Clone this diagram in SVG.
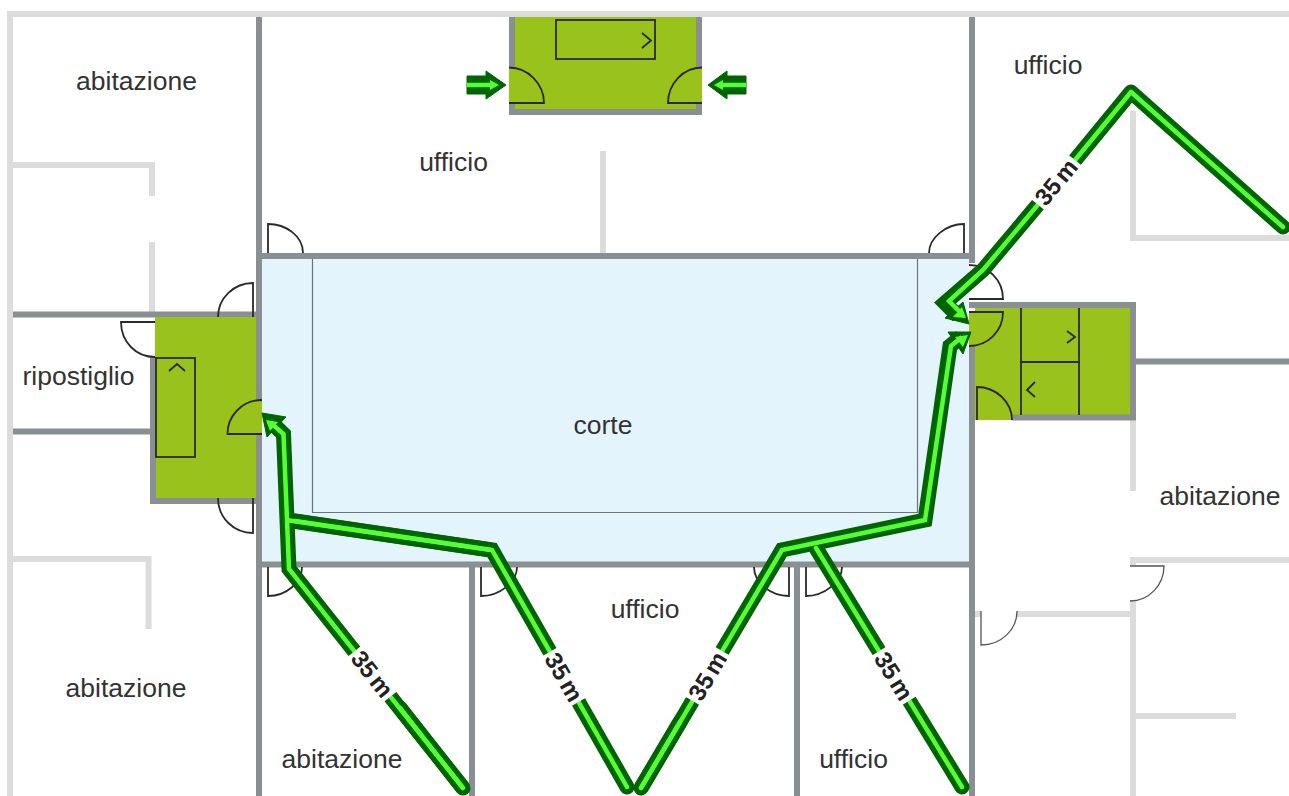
<svg xmlns="http://www.w3.org/2000/svg" width="1289" height="796" viewBox="0 0 1289 796">
<style>
.lw{fill:none;stroke:#dcdcdc;stroke-width:6}
.dw{fill:none;stroke:#898f92;stroke-width:6}
.g{fill:#99c21c}
.d{fill:none;stroke:#2a2a2a;stroke-width:1.800}
.e{fill:none;stroke:#555;stroke-width:1.300}
.t{font-family:"Liberation Sans",Arial,sans-serif;font-size:26.500px;fill:#333;text-anchor:middle}
.m{font-family:"Liberation Sans",Arial,sans-serif;font-size:24px;font-weight:bold;fill:#222;text-anchor:middle;word-spacing:-3px}
.o{fill:none;stroke:#006400;stroke-width:15;stroke-linejoin:miter;stroke-linecap:round}
.i{fill:none;stroke:#55ff33;stroke-width:4.500;stroke-linejoin:miter;stroke-linecap:round}
.h{fill:#006400;stroke:#006400;stroke-width:1;stroke-linejoin:round}
.k{fill:#55ff33}
.mask{fill:#fff}
</style>
<rect width="1289" height="796" fill="#fff"/>
<g id="walls-light">
<path class="lw" d="M1289 14H10V796"/>
<path class="lw" d="M10 165H152V196M152 242V312"/>
<path class="lw" d="M10 559H148.500V629"/>
<path class="lw" d="M1133 111V238H1289"/>
<path class="lw" d="M1133 420V491M1133 557V796"/>
<path class="lw" d="M1130 560H1289M975 614H981M1017 614H1130M1133 716H1236"/>
<path class="lw" d="M603 151V254"/>
<rect x="1129" y="566" width="8" height="35" fill="#fff"/>
</g>
<g id="corte">
<rect x="262" y="259" width="707" height="303" fill="#e4f4fc"/>
<path d="M312.500 259V512.500H917.500V259" fill="none" stroke="#6f7477" stroke-width="1.200"/>
<text class="t" x="603" y="434">corte</text>
</g>
<g id="walls-dark">
<path class="dw" d="M259 17V400M259 434V796M972 17V263M972 345V796"/>
<path class="dw" d="M256 256H975M256 564.500H975"/>
<path class="dw" d="M472 564V796M797 564V796"/>
<path class="dw" d="M13 314.500H259M13 431.500H152M1136 361.500H1289"/>
</g>
<g id="room-left">
<rect class="g" x="155" y="317" width="101" height="181"/>
<rect class="g" x="255" y="400" width="7" height="34"/>
<path class="dw" d="M153 357V501H256"/>
<rect class="d" x="156" y="358" width="39" height="99"/>
<path class="d" d="M169 371L177 364L185 371"/>
<path class="d" d="M262 434H227.500C227.500 416 242 400 262 400"/>
<path class="d" d="M155 322H121C121 342 136 357 155 357"/>
<path class="d" d="M253 317V283C234 283 218 298 218 317"/>
<path class="d" d="M253 498V533C234 533 218 518 218 498"/>
</g>
<g id="room-top">
<rect class="g" x="515" y="17" width="181" height="92"/>
<rect class="g" x="509" y="67" width="7" height="36"/>
<rect class="g" x="695" y="67" width="7" height="36"/>
<path class="dw" d="M512 17V67M512 103V112H699V103M699 67V17"/>
<rect class="d" x="556" y="20" width="99" height="39"/>
<path class="d" d="M642 33L651 40.500L642 48"/>
<path class="d" d="M509 67.500C528 67.500 544 84 544 103H509M702 67.500C683 67.500 668 84 668 103H702"/>
</g>
<g id="room-right">
<rect class="g" x="975" y="308" width="155" height="107"/>
<rect class="g" x="969" y="312" width="7" height="34"/>
<rect class="g" x="975" y="414" width="37" height="6"/>
<path class="dw" d="M969 305H1133V417.500H1012"/>
<path class="d" d="M1021 308V415M1079 308V415M1021 362H1079"/>
<path class="d" d="M1067 331L1075 337L1067 343M1035 382L1027 390L1035 397"/>
<path class="d" d="M969 312H1003C1003 331 988 346 969 346"/>
<path class="d" d="M977 420V387C996 387 1012 402 1012 420"/>
<path class="d" d="M969 299H1003C1003 280 988 265 969 265"/>
</g>
<g id="doors">
<path class="d" d="M268 253V224C286 224 303 236 303 253"/>
<path class="d" d="M964 253V224C946 224 929 238 929 253"/>
<path class="d" d="M268 567V596C286 596 302 583 302 567"/>
<path class="d" d="M481 567V596C500 596 517 582 517 567"/>
<path class="d" d="M789 567V596C770 596 754 582 754 567"/>
<path class="d" d="M806 567V596C824 596 842 582 842 567"/>
<path class="e" d="M1130 566H1164C1164 585 1149 601 1130 601"/>
<path class="e" d="M981 611V645C1001 645 1017 630 1017 611"/>
</g>
<g id="labels">
<text class="t" x="136.500" y="90">abitazione</text>
<text class="t" x="453.500" y="171">ufficio</text>
<text class="t" x="1048" y="74">ufficio</text>
<text class="t" x="78.500" y="385">ripostiglio</text>
<text class="t" x="1220" y="505">abitazione</text>
<text class="t" x="645" y="618">ufficio</text>
<text class="t" x="126" y="697">abitazione</text>
<text class="t" x="342" y="768">abitazione</text>
<text class="t" x="853.500" y="768">ufficio</text>
</g>
<g id="connectors">
<path class="o" style="stroke-linejoin:round" d="M1283 227L1131 92L1057 182"/>
<path class="o" style="stroke-linecap:butt" d="M1057 182L983 270L945 303L958 316"/>
<path class="o" style="stroke-linecap:butt" d="M463 788L289 569L283.500 434L272 423"/>
<path class="o" d="M463 788L400 708"/>
<path class="o" style="stroke-linecap:butt" d="M491 550L286 520"/>
<path class="o" d="M627 787L492 550L295 521"/>
<path class="o" style="stroke-linecap:butt" d="M641 788L782 550L925 520L950 346L961 337"/>
<path class="o" d="M641 788L680 722"/>
<path class="o" d="M962 787L816 548"/>
<path class="h" d="M262 413L286 417L267 437Z"/>
<path class="h" d="M971 332L948 332L963 354Z"/>
<path class="h" d="M969 324L945 318L963 302Z"/>
<path class="i" style="stroke-linejoin:round" d="M1283 227L1131 92L1057 182"/>
<path class="i" style="stroke-linecap:butt" d="M1057 182L983 270L949 301L962 314"/>
<path class="i" style="stroke-linecap:butt" d="M463 788L289 569L283.500 434L272 424"/>
<path class="i" d="M463 788L400 708"/>
<path class="i" style="stroke-linecap:butt" d="M491 550L286 520"/>
<path class="i" d="M627 787L492 550L295 521"/>
<path class="i" style="stroke-linecap:butt" d="M641 788L782 550L925 520L951 346L962 337"/>
<path class="i" d="M641 788L680 722"/>
<path class="i" d="M962 787L816 548"/>
<path class="k" d="M266 420L278 422L270 431Z"/>
<path class="k" d="M968 335L955 337L963 347Z"/>
<path class="k" d="M966 318L953 317L962 307Z"/>
</g>
<g id="arrows">
<path class="h" d="M467 76H486V71L506 85L486 99V94H467Z"/>
<path d="M467 85H494" stroke="#55ff33" stroke-width="4.500" fill="none"/><path class="k" d="M490 80L499 85L490 90Z"/>
<path class="h" d="M746 76H727V71L708 85L727 99V94H746Z"/>
<path d="M746 85H719" stroke="#55ff33" stroke-width="4.500" fill="none"/><path class="k" d="M723 80L714 85L723 90Z"/>
</g>
<g id="dist-labels">
<g transform="translate(372.400 674) rotate(51.500)"><rect x="-29" y="-11" width="58" height="22" class="mask"/><text class="m" y="8.500">35 m</text></g>
<g transform="translate(564 677) rotate(60)"><rect x="-29" y="-11" width="58" height="22" class="mask"/><text class="m" y="8.500">35 m</text></g>
<g transform="translate(707.400 676) rotate(-59.500)"><rect x="-29" y="-11" width="58" height="22" class="mask"/><text class="m" y="8.500">35 m</text></g>
<g transform="translate(894 676) rotate(58.500)"><rect x="-29" y="-11" width="58" height="22" class="mask"/><text class="m" y="8.500">35 m</text></g>
<g transform="translate(1056 182) rotate(-50.500)"><rect x="-29" y="-11" width="58" height="22" class="mask"/><text class="m" y="8.500">35 m</text></g>
</g>
</svg>
